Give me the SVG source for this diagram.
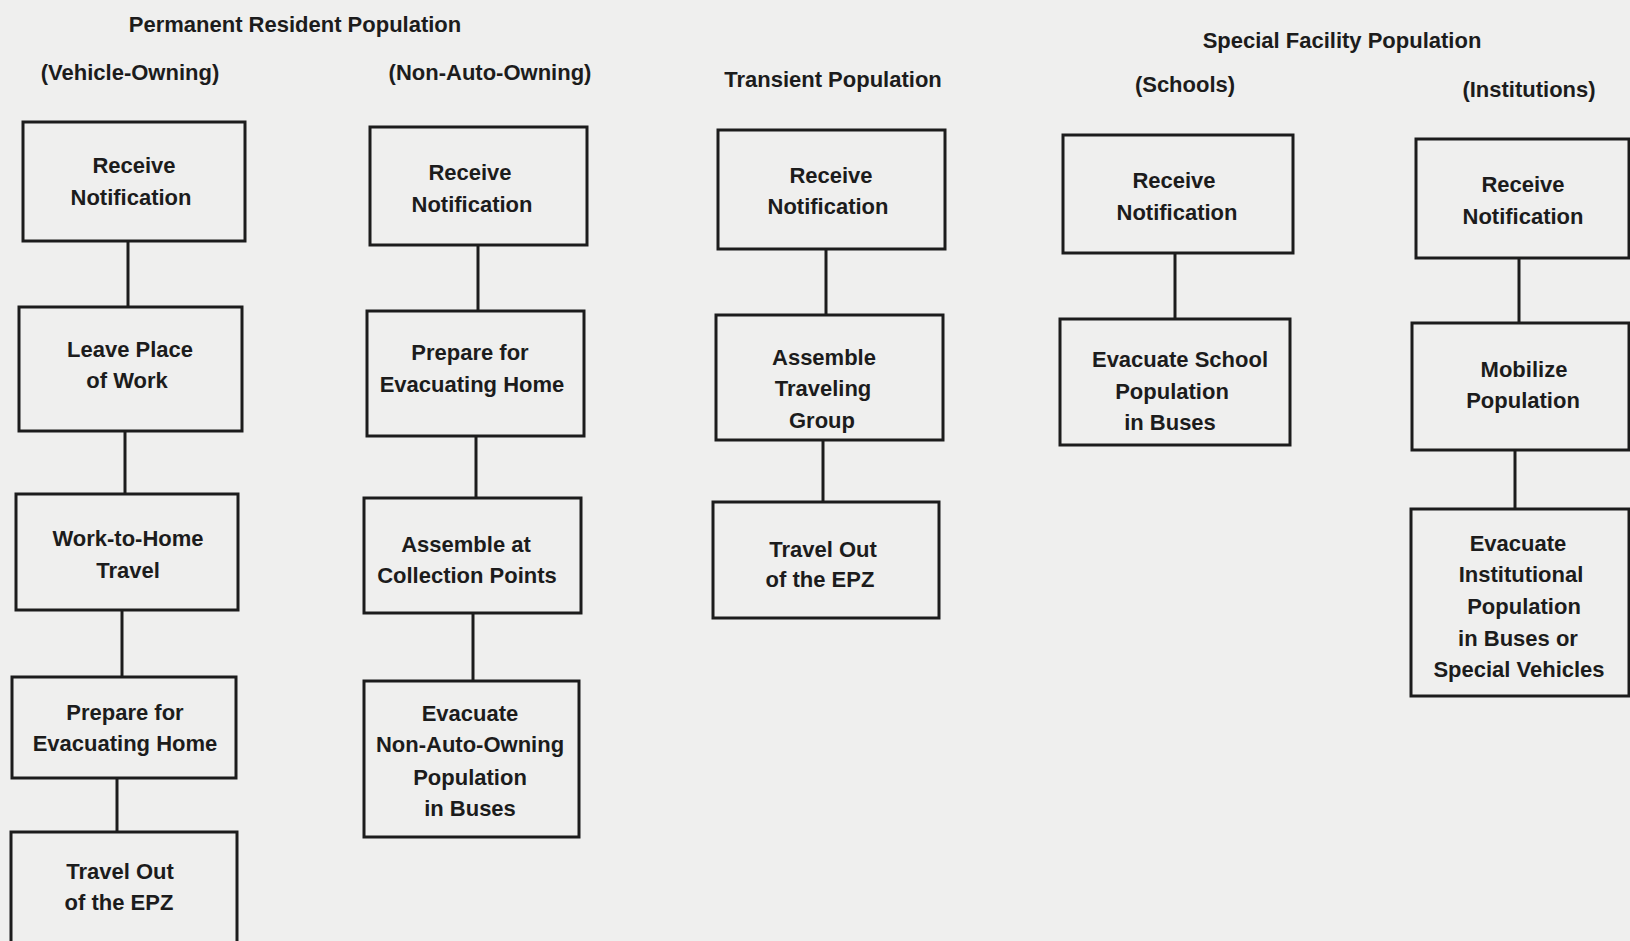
<svg xmlns="http://www.w3.org/2000/svg" width="1630" height="941" viewBox="0 0 1630 941">
<style>
.bg{fill:#efefee}
.box{fill:none;stroke:#1c1c1c;stroke-width:3}
.con{stroke:#1c1c1c;stroke-width:3;fill:none}
.t{font-family:"Liberation Sans",Arial,sans-serif;font-weight:bold;font-size:22px;fill:#1c1c1c;text-anchor:middle}
.h{font-family:"Liberation Sans",Arial,sans-serif;font-weight:bold;font-size:22px;fill:#1c1c1c;text-anchor:middle}
</style>
<rect class="bg" x="0" y="0" width="1630" height="941"/>
<g id="headers">
<text class="h" x="295" y="32">Permanent Resident Population</text>
<text class="h" x="130" y="80">(Vehicle-Owning)</text>
<text class="h" x="490" y="80">(Non-Auto-Owning)</text>
<text class="h" x="833" y="87">Transient Population</text>
<text class="h" x="1342" y="48">Special Facility Population</text>
<text class="h" x="1185" y="92">(Schools)</text>
<text class="h" x="1529" y="97">(Institutions)</text>
</g>
<g id="connectors">
<line class="con" x1="128" y1="241" x2="128" y2="307"/>
<line class="con" x1="125" y1="431" x2="125" y2="494"/>
<line class="con" x1="122" y1="610" x2="122" y2="677"/>
<line class="con" x1="117" y1="778" x2="117" y2="832"/>
<line class="con" x1="478" y1="245" x2="478" y2="311"/>
<line class="con" x1="476" y1="436" x2="476" y2="498"/>
<line class="con" x1="473" y1="613" x2="473" y2="681"/>
<line class="con" x1="826" y1="249" x2="826" y2="315"/>
<line class="con" x1="823" y1="440" x2="823" y2="502"/>
<line class="con" x1="1175" y1="253" x2="1175" y2="319"/>
<line class="con" x1="1519" y1="258" x2="1519" y2="323"/>
<line class="con" x1="1515" y1="450" x2="1515" y2="509"/>
</g>
<g id="v1"><rect class="box" x="23" y="122" width="222" height="119"/><text class="t" x="134" y="173">Receive</text><text class="t" x="131" y="205">Notification</text></g>
<g id="v2"><rect class="box" x="19" y="307" width="223" height="124"/><text class="t" x="130" y="357">Leave Place</text><text class="t" x="127" y="388">of Work</text></g>
<g id="v3"><rect class="box" x="16" y="494" width="222" height="116"/><text class="t" x="128" y="546">Work-to-Home</text><text class="t" x="128" y="578">Travel</text></g>
<g id="v4"><rect class="box" x="12" y="677" width="224" height="101"/><text class="t" x="125" y="720">Prepare for</text><text class="t" x="125" y="751">Evacuating Home</text></g>
<g id="v5"><rect class="box" x="11" y="832" width="226" height="112"/><text class="t" x="120" y="879">Travel Out</text><text class="t" x="119" y="910">of the EPZ</text></g>
<g id="n1"><rect class="box" x="370" y="127" width="217" height="118"/><text class="t" x="470" y="180">Receive</text><text class="t" x="472" y="212">Notification</text></g>
<g id="n2"><rect class="box" x="367" y="311" width="217" height="125"/><text class="t" x="470" y="360">Prepare for</text><text class="t" x="472" y="392">Evacuating Home</text></g>
<g id="n3"><rect class="box" x="364" y="498" width="217" height="115"/><text class="t" x="466" y="552">Assemble at</text><text class="t" x="467" y="583">Collection Points</text></g>
<g id="n4"><rect class="box" x="364" y="681" width="215" height="156"/><text class="t" x="470" y="721">Evacuate</text><text class="t" x="470" y="752">Non-Auto-Owning</text><text class="t" x="470" y="785">Population</text><text class="t" x="470" y="816">in Buses</text></g>
<g id="t1"><rect class="box" x="718" y="130" width="227" height="119"/><text class="t" x="831" y="183">Receive</text><text class="t" x="828" y="214">Notification</text></g>
<g id="t2"><rect class="box" x="716" y="315" width="227" height="125"/><text class="t" x="824" y="365">Assemble</text><text class="t" x="823" y="396">Traveling</text><text class="t" x="822" y="428">Group</text></g>
<g id="t3"><rect class="box" x="713" y="502" width="226" height="116"/><text class="t" x="823" y="557">Travel Out</text><text class="t" x="820" y="587">of the EPZ</text></g>
<g id="s1"><rect class="box" x="1063" y="135" width="230" height="118"/><text class="t" x="1174" y="188">Receive</text><text class="t" x="1177" y="220">Notification</text></g>
<g id="s2"><rect class="box" x="1060" y="319" width="230" height="126"/><text class="t" x="1180" y="367">Evacuate School</text><text class="t" x="1172" y="399">Population</text><text class="t" x="1170" y="430">in Buses</text></g>
<g id="i1"><rect class="box" x="1416" y="139" width="213" height="119"/><text class="t" x="1523" y="192">Receive</text><text class="t" x="1523" y="224">Notification</text></g>
<g id="i2"><rect class="box" x="1412" y="323" width="217" height="127"/><text class="t" x="1524" y="377">Mobilize</text><text class="t" x="1523" y="408">Population</text></g>
<g id="i3"><rect class="box" x="1411" y="509" width="218" height="187"/><text class="t" x="1518" y="551">Evacuate</text><text class="t" x="1521" y="582">Institutional</text><text class="t" x="1524" y="614">Population</text><text class="t" x="1518" y="646">in Buses or</text><text class="t" x="1519" y="677">Special Vehicles</text></g>
</svg>
